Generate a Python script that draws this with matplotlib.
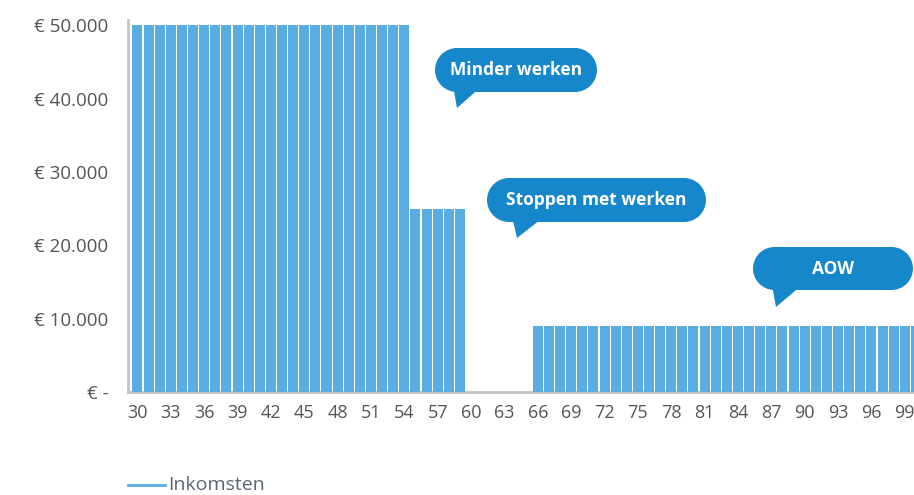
import matplotlib
matplotlib.use("Agg")
import matplotlib.pyplot as plt
from matplotlib.patches import Polygon, Ellipse, Rectangle
from matplotlib.lines import Line2D

# Yearly income per age
ages = list(range(30, 101))
income = [50000] * 25 + [25000] * 5 + [0] * 6 + [9000] * 35
tick_ages = list(range(30, 100, 3))
y_ticks = [0, 10000, 20000, 30000, 40000, 50000]
y_labels = ["€ -", "€ 10.000", "€ 20.000", "€ 30.000", "€ 40.000", "€ 50.000"]
callouts = ["Minder werken", "Stoppen met werken", "AOW"]
legend_label = "Inkomsten"

W, H = 914, 495
BAR = "#5aade0"
BUBBLE = "#1787cc"
TXT = "#555555"
FONT = "Open Sans"

fig = plt.figure(figsize=(W / 100, H / 100), dpi=100)
ax = fig.add_axes([128 / W, (H - 392) / H, (W - 128) / W, (392 - 20) / H])

ax.bar(ages, income, width=0.9, color=BAR, edgecolor="none", zorder=2)
ax.set_xlim(29.15, 99.83)
ax.set_ylim(0, 50700)

ax.set_xticks(tick_ages)
ax.set_xticklabels([str(a) for a in tick_ages], fontsize=13, color=TXT, family=FONT)
ax.set_yticks(y_ticks)
ax.set_yticklabels(y_labels, fontsize=13.5, color=TXT, family=FONT)
ax.tick_params(axis="both", length=0)
ax.tick_params(axis="x", pad=9)
ax.tick_params(axis="y", pad=14)

for s in ["top", "right"]:
    ax.spines[s].set_visible(False)
for s in ["left", "bottom"]:
    ax.spines[s].set_color("#c4c4c4")
    ax.spines[s].set_linewidth(2)
    ax.spines[s].set_zorder(1)


def px(x, y):
    return x / W, (H - y) / H


def bubble(text, left, top, width, height, tip, base):
    """Pill-shaped speech bubble with a tail, positioned in pixel units."""
    x0, y1 = px(left, top)
    x1, y0 = px(left + width, top + height)
    r = height / 2
    fig.patches.append(Rectangle((x0 + r / W, y0), (x1 - x0) - 2 * r / W, y1 - y0,
                                 transform=fig.transFigure, facecolor=BUBBLE,
                                 edgecolor="none", zorder=5))
    for cx in (x0 + r / W, x1 - r / W):
        fig.patches.append(Ellipse((cx, (y0 + y1) / 2), 2 * r / W, 2 * r / H,
                                   transform=fig.transFigure, facecolor=BUBBLE,
                                   edgecolor="none", zorder=5))
    fig.patches.append(Polygon([px(*base[0]), px(*tip), px(*base[1])], closed=True,
                               transform=fig.transFigure, facecolor=BUBBLE,
                               edgecolor="none", zorder=5))
    fig.text((x0 + x1) / 2, (y0 + y1) / 2, text, color="white", fontsize=12.5,
             fontweight="bold", family=FONT, ha="center", va="center", zorder=6)


bubble(callouts[0], 435, 48, 162, 44, (457, 108), [(453, 86), (482, 86)])
bubble(callouts[1], 487, 178, 219, 44, (517, 238), [(512, 216), (545, 216)])
bubble(callouts[2], 753, 247, 160, 43, (776, 307), [(772, 285), (802, 285)])

fig.add_artist(Line2D([128 / W, 165 / W], [(H - 485) / H] * 2, color=BAR,
                      linewidth=2, transform=fig.transFigure))
fig.text(168 / W, (H - 494) / H, legend_label, fontsize=14, color="#5b6676",
         family=FONT, va="bottom", ha="left")

fig.savefig("out.png", dpi=100)
